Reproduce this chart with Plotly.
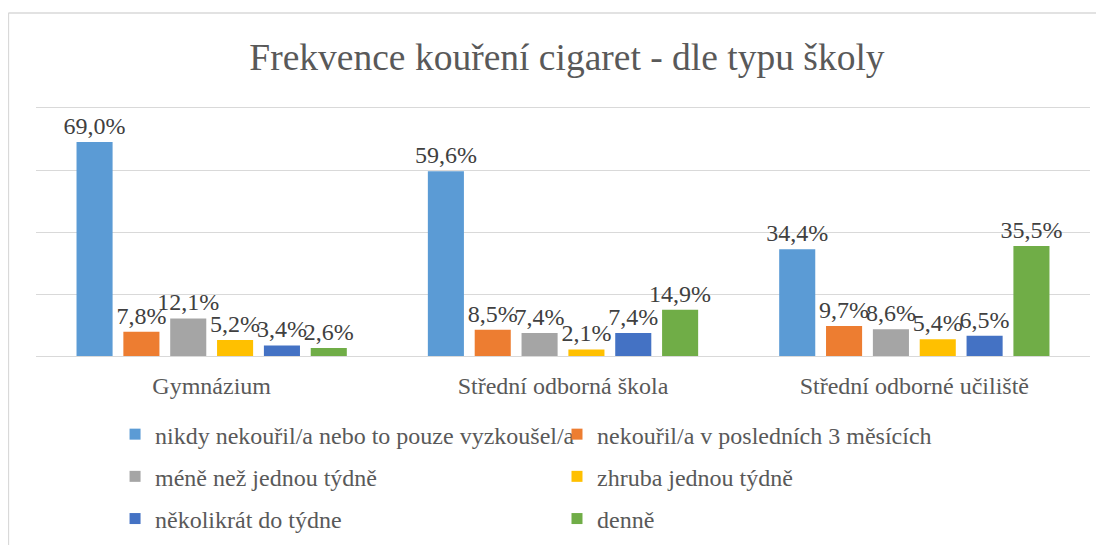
import plotly.graph_objects as go

# data
schools = ["Gymnázium", "Střední odborná škola", "Střední odborné učiliště"]
series_names = [
    "nikdy nekouřil/a nebo to pouze vyzkoušel/a",
    "nekouřil/a v posledních 3 měsících",
    "méně než jednou týdně",
    "zhruba jednou týdně",
    "několikrát do týdne",
    "denně",
]
never = [69.0, 59.6, 34.4]
not_last_3m = [7.8, 8.5, 9.7]
less_weekly = [12.1, 7.4, 8.6]
about_weekly = [5.2, 2.1, 5.4]
several_weekly = [3.4, 7.4, 6.5]
daily = [2.6, 14.9, 35.5]

series_values = [never, not_last_3m, less_weekly, about_weekly, several_weekly, daily]
colors = ["#5B9BD5", "#ED7D31", "#A5A5A5", "#FFC000", "#4472C4", "#70AD47"]

FONT = "Liberation Serif"

fig = go.Figure()

for name, vals, col in zip(series_names, series_values, colors):
    fig.add_trace(go.Bar(
        x=schools, y=vals, name=name,
        marker=dict(color=col, line=dict(width=0)),
        texttemplate="%{y:.1f}%",
        textposition="outside",
        textangle=0,
        constraintext="none",
        cliponaxis=False,
        textfont=dict(family=FONT, size=24, color="#404040"),
        showlegend=False,
    ))

# legend entries (small squares), split in two columns
for i, (name, col) in enumerate(zip(series_names, colors)):
    fig.add_trace(go.Scatter(
        x=[None], y=[None], mode="markers", name=name,
        marker=dict(symbol="square", size=11, color=col),
        legend="legend" if i % 2 == 0 else "legend2",
        legendgroup=str(i),
    ))

legend_common = dict(
    font=dict(family=FONT, size=24, color="#595959"),
    orientation="v", xanchor="left", yanchor="top",
    y=-0.226, tracegroupgap=8, bgcolor="rgba(0,0,0,0)",
)

# outer chart frame (only left and top edges are in view)
frame = dict(type="line", xref="paper", yref="paper",
             line=dict(color="#D9D9D9", width=1.5), layer="below")

# page body has an 8px margin, so the figure sits at (8, 8); it is made a bit
# taller than the window so the legend never pushes the plot margins
fig.update_layout(
    width=1096, height=560,
    margin=dict(l=28, r=14, t=100, b=212),
    paper_bgcolor="white", plot_bgcolor="white",
    separators=", ",
    barmode="group", bargap=0.2, bargroupgap=0.23,
    title=dict(text="Frekvence kouření cigaret - dle typu školy",
               x=0.51, xanchor="center", y=1 - 49 / 560, yanchor="middle",
               font=dict(family=FONT, size=37.5, color="#595959")),
    # mirrored axis line stands in for the 80 % gridline at the top edge
    xaxis=dict(type="category", showline=True, mirror=True,
               linecolor="#D9D9D9", linewidth=1,
               showgrid=False, ticks="", ticklabelstandoff=8,
               tickfont=dict(family=FONT, size=24, color="#595959")),
    yaxis=dict(range=[0, 80], dtick=20, showticklabels=False,
               gridcolor="#D9D9D9", gridwidth=1, zeroline=False, fixedrange=True),
    legend=dict(x=0.075, **legend_common),
    legend2=dict(x=0.4943, **legend_common),
    shapes=[
        dict(frame, x0=-0.0262, x1=-0.0262, y0=1.383, y1=-0.9),
        dict(frame, x0=-0.0262, x1=1.02, y0=1.383, y1=1.383),
    ],
)

fig.write_html("out.html")
